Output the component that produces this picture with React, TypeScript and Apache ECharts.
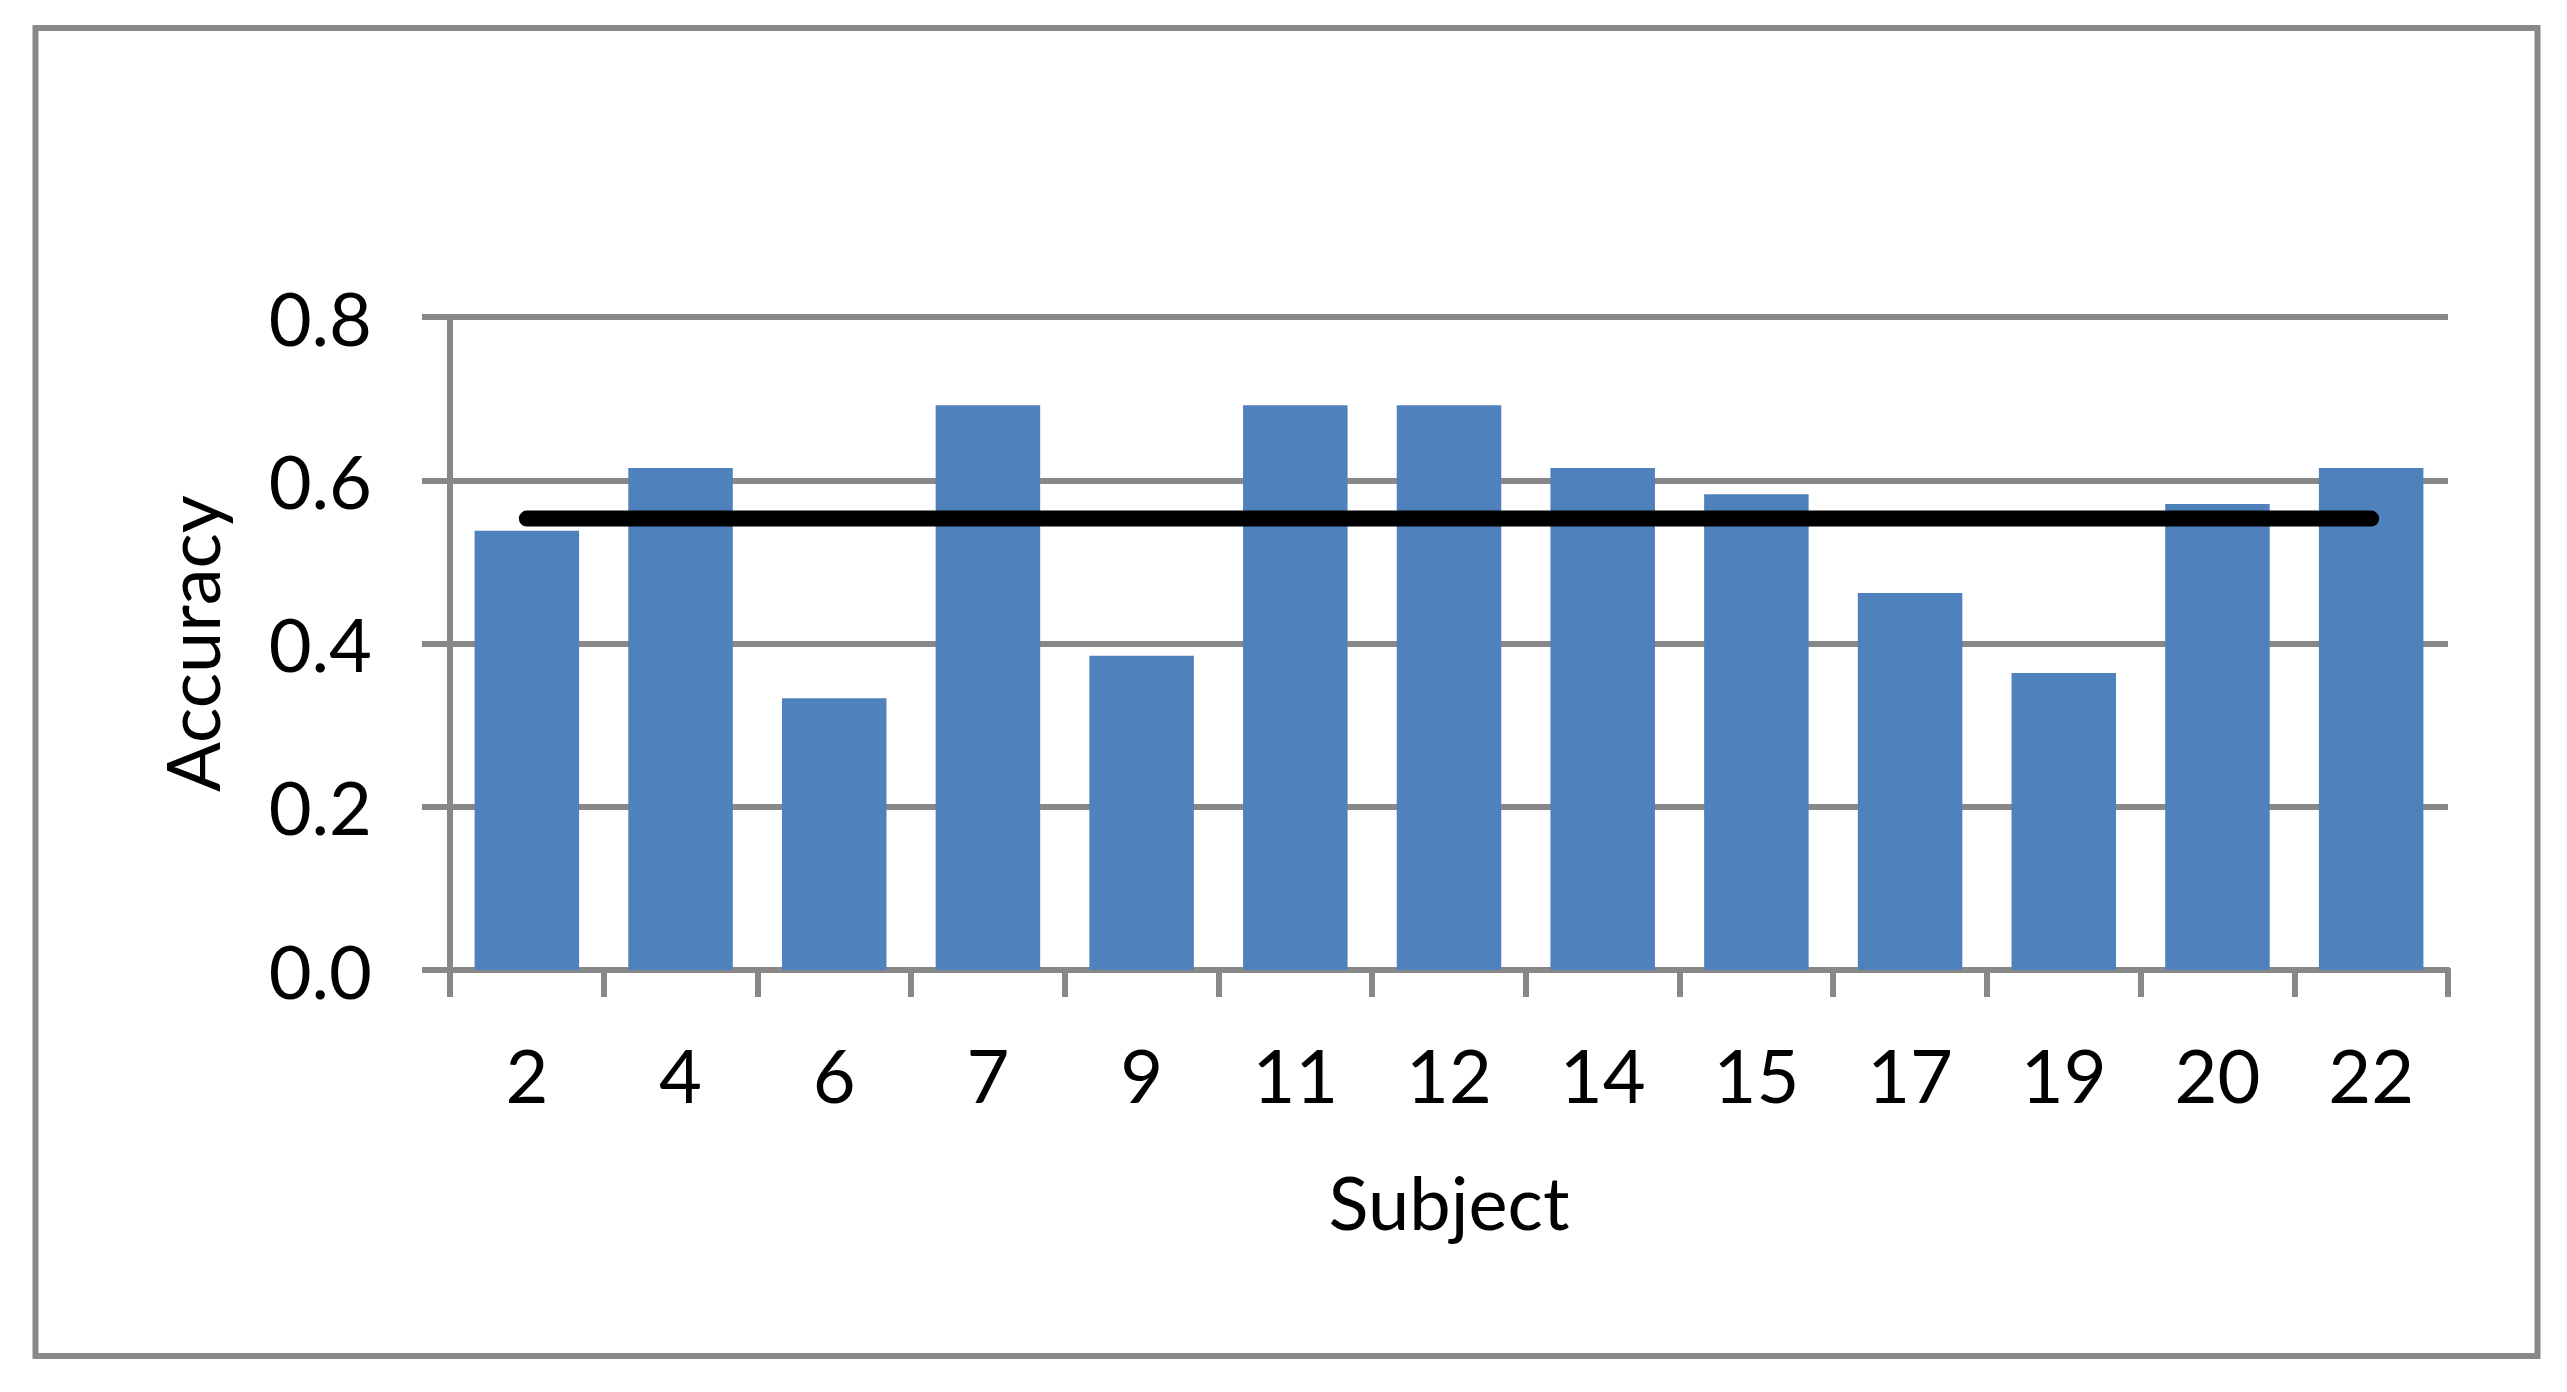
import React, { useEffect, useRef } from "react";
import * as echarts from "echarts";

const subjects = ["2", "4", "6", "7", "9", "11", "12", "14", "15", "17", "19", "20", "22"];
const accuracy = [0.538, 0.615, 0.333, 0.692, 0.385, 0.692, 0.692, 0.615, 0.583, 0.462, 0.364, 0.571, 0.615];
const meanAccuracy = 0.553;
const yTicks = [0, 0.2, 0.4, 0.6, 0.8];

const GRAY = "#888888";
const FONT = "Lato";

export default function App() {
  const ref = useRef<HTMLDivElement>(null);

  useEffect(() => {
    document.body.style.margin = "0";
    const chart = echarts.init(ref.current!, undefined, { renderer: "svg" });
    chart.setOption({
      animation: false,
      backgroundColor: "#ffffff",
      graphic: [
        {
          type: "rect",
          shape: { x: 35.5, y: 28, width: 2502, height: 1328 },
          style: { fill: "none", stroke: GRAY, lineWidth: 6 },
          silent: true,
        },
      ],
      grid: { left: 450, right: 119, top: 317, bottom: 422 },
      xAxis: {
        type: "category",
        data: subjects,
        boundaryGap: true,
        name: "Subject",
        nameLocation: "middle",
        nameGap: 194,
        nameTextStyle: { fontFamily: FONT, fontSize: 74, color: "#000" },
        axisLine: { show: true, lineStyle: { color: GRAY, width: 6 } },
        axisTick: { show: true, length: 27, alignWithLabel: false, lineStyle: { color: GRAY, width: 6 } },
        axisLabel: { fontFamily: FONT, fontSize: 74, color: "#000", margin: 67, interval: 0 },
        splitLine: { show: false },
      },
      yAxis: {
        type: "value",
        min: yTicks[0],
        max: yTicks[yTicks.length - 1],
        interval: 0.2,
        name: "Accuracy",
        nameLocation: "middle",
        nameGap: 222,
        nameRotate: 90,
        nameTextStyle: { fontFamily: FONT, fontSize: 74, color: "#000" },
        axisLine: { show: true, lineStyle: { color: GRAY, width: 6 } },
        axisTick: { show: true, length: 28, lineStyle: { color: GRAY, width: 6 } },
        axisLabel: {
          fontFamily: FONT,
          fontSize: 74,
          color: "#000",
          margin: 78,
          formatter: (v: number) => v.toFixed(1),
        },
        splitLine: { show: true, lineStyle: { color: GRAY, width: 6 } },
      },
      series: [
        {
          type: "bar",
          data: accuracy,
          barCategoryGap: "32%",
          itemStyle: { color: "#4F81BD" },
        },
        {
          type: "line",
          data: subjects.map(() => meanAccuracy),
          symbol: "none",
          lineStyle: { color: "#000000", width: 16, cap: "round" },
          z: 5,
        },
      ],
    });
    return () => chart.dispose();
  }, []);

  return <div ref={ref} style={{ width: 2567, height: 1392 }} />;
}
